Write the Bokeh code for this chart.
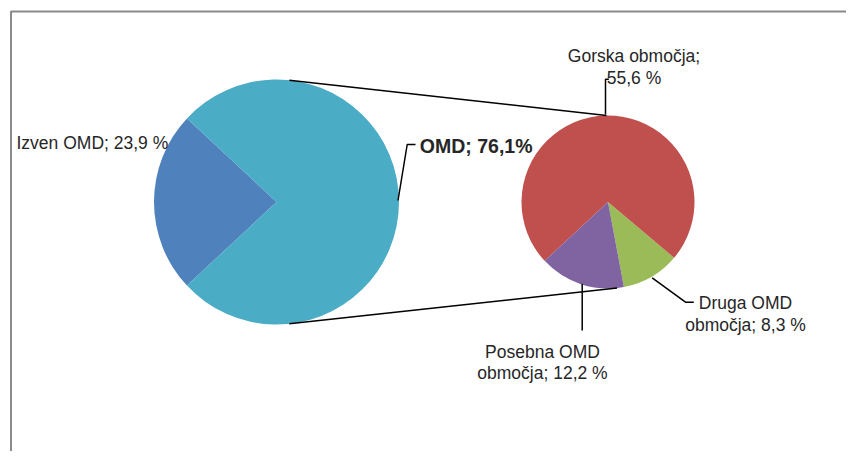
import numpy as np
from bokeh.plotting import figure
from bokeh.models import Range1d, ColumnDataSource
from bokeh.core.properties import value
from bokeh.embed import file_html
from bokeh.resources import INLINE

# ---- data ----
main_labels = ["Izven OMD", "OMD"]
main_values = [23.9, 76.1]
main_colors = ["#4F81BD", "#4BACC6"]

sub_labels = ["Druga OMD območja", "Gorska območja", "Posebna OMD območja"]
sub_values = [8.3, 55.6, 12.2]
sub_colors = ["#9BBB59", "#C0504D", "#8064A2"]

label_izven = "Izven OMD; 23,9 %"
label_omd = "OMD; 76,1%"
label_gorska = ["Gorska območja;", "55,6 %"]
label_druga = ["Druga OMD", "območja; 8,3 %"]
label_posebna = ["Posebna OMD", "območja; 12,2 %"]

# ---- layout (pixel coords, y measured from top) ----
W, H = 846, 451
def Y(v):
    return H - v

p = figure(width=W, height=H, output_backend="svg", toolbar_location=None,
           x_range=Range1d(0, W), y_range=Range1d(0, H),
           x_axis_type=None, y_axis_type=None, min_border=0)
p.outline_line_color = None
p.grid.visible = False
p.background_fill_color = "white"
p.border_fill_color = "white"

FONT = value("Liberation Sans")

# frame (chart area border)
p.line([10.5, 10.5, 870], [Y(480), Y(11), Y(11)], line_color="#8A8A8A", line_width=2)

# big pie
bcx, bcy, br = 276.0, 201.5, 122.5
deg_per = 360.0 / sum(main_values)
izven_span = main_values[0] * deg_per
b_start = 180 - izven_span / 2
starts, ends = [], []
a = b_start
for v in main_values:
    starts.append(np.deg2rad(a))
    a += v * deg_per
    ends.append(np.deg2rad(a))
p.wedge(x=[bcx] * 2, y=[Y(bcy)] * 2, radius=br, radius_units="screen",
        start_angle=starts, end_angle=ends,
        direction="anticlock", fill_color=main_colors, line_color=None)

# small pie
scx, scy, sr = 607.5, 201.5, 86.5
sdeg = 360.0 / sum(sub_values)
a = -79.4
s_starts, s_ends = [], []
for v in sub_values:
    s_starts.append(np.deg2rad(a))
    a += v * sdeg
    s_ends.append(np.deg2rad(a))
p.wedge(x=[scx] * 3, y=[Y(scy)] * 3, radius=sr, radius_units="screen",
        start_angle=s_starts, end_angle=s_ends,
        direction="anticlock", fill_color=sub_colors, line_color=None)

# connector lines
def on_circle(cx, cy, r, deg):
    t = np.deg2rad(deg)
    return cx + r * np.cos(t), cy - r * np.sin(t)

x1, y1 = on_circle(bcx, bcy, br, 84)
x2, y2 = on_circle(scx, scy, sr, 91)
p.line([x1, x2], [Y(y1), Y(y2)], line_color="black", line_width=1.5)
x1, y1 = on_circle(bcx, bcy, br, -84)
x2, y2 = on_circle(scx, scy, sr, -84)
p.line([x1, x2], [Y(y1), Y(y2)], line_color="black", line_width=1.5)

# leader lines
leaders = [
    ([397.5, 406.7, 415.0], [200.0, 144.0, 144.0]),
    ([605.0, 605.0, 608.3], [114.0, 78.7, 78.7]),
    ([651.7, 685.0, 693.3], [277.3, 301.7, 301.7]),
    ([581.7, 581.7], [283.3, 330.0]),
]
for xs, ys in leaders:
    p.line(xs, [Y(v) for v in ys], line_color="black", line_width=1.5)

# labels
reg = dict(x=[16, 633.5, 633.5, 745, 745, 542, 542],
           y=[Y(142.5), Y(55), Y(77.3), Y(302.7), Y(324), Y(351), Y(372.3)],
           t=[label_izven, label_gorska[0], label_gorska[1], label_druga[0],
              label_druga[1], label_posebna[0], label_posebna[1]],
           al=["left", "center", "center", "center", "center", "center", "center"])
p.text(x="x", y="y", text="t", text_align="al", source=ColumnDataSource(reg),
       text_baseline="alphabetic", text_font=FONT, text_font_size="17.5px",
       text_color="#262626")
p.text(x=[419.3], y=[Y(145)], text=[label_omd], text_align="left",
       text_baseline="alphabetic", text_font=FONT, text_font_size="19.5px",
       text_font_style="bold", text_color="#262626")

open("out.html", "w").write(file_html(p, INLINE))
